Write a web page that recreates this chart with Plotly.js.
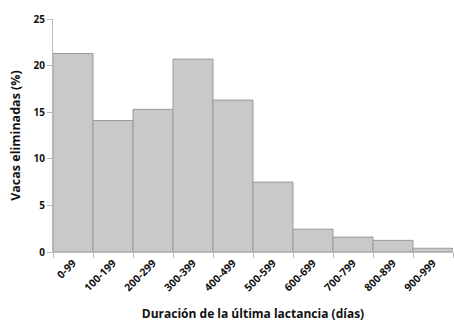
<!DOCTYPE html>
<html>
<head>
<meta charset="utf-8">
<script src="https://cdn.plot.ly/plotly-3.0.1.min.js"></script>
<style>html,body{margin:0;padding:0;background:#fff;}#chart{width:454px;height:327px;}</style>
</head>
<body>
<div id="chart"></div>
<script>
var categories = ["0-99","100-199","200-299","300-399","400-499","500-599","600-699","700-799","800-899","900-999"];
var values = [21.3, 14.1, 15.3, 20.7, 16.3, 7.5, 2.45, 1.6, 1.25, 0.4];
var yTicks = [0, 5, 10, 15, 20, 25];

var font = "'Open Sans', Lato, sans-serif";
Plotly.newPlot("chart", [{
  type: "bar",
  x: categories,
  y: values,
  marker: {color: "#c9c9c9", line: {color: "#9a9a9a", width: 1}},
  hoverinfo: "skip"
}], {
  width: 454, height: 327,
  margin: {l: 53, r: 1, t: 19, b: 75},
  paper_bgcolor: "#fff", plot_bgcolor: "#fff",
  bargap: 0,
  showlegend: false,
  font: {family: font, color: "#111"},
  xaxis: {
    type: "category",
    tickangle: -45,
    tickson: "boundaries",
    ticks: "outside", ticklen: 5, tickcolor: "#bbb",
    showline: true, linecolor: "#bbb", linewidth: 1,
    showgrid: false, zeroline: false,
    tickfont: {family: font, size: 10.5, color: "#111", weight: 700},
    title: {text: "Duración de la última lactancia (días)", font: {family: font, size: 12, color: "#111", weight: 700}, standoff: 16}
  },
  yaxis: {
    range: [0, 25],
    tickvals: yTicks,
    ticks: "outside", ticklen: 5, tickcolor: "#bbb",
    showline: true, linecolor: "#bbb", linewidth: 1,
    showgrid: false, zeroline: false,
    tickfont: {family: font, size: 10, color: "#111", weight: 700},
    title: {text: "Vacas eliminadas (%)", font: {family: font, size: 12.5, color: "#111", weight: 700}, standoff: 10}
  }
}, {staticPlot: true, displayModeBar: false});
</script>
</body>
</html>
